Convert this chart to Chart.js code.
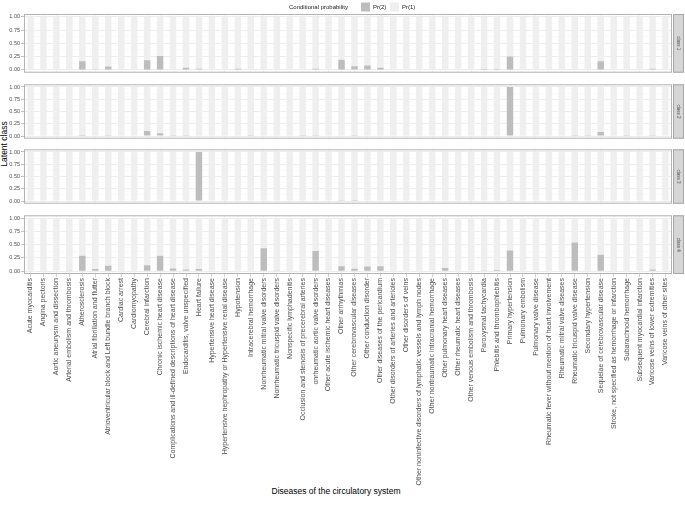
<!DOCTYPE html>
<html>
<head>
<meta charset="utf-8">
<script src="https://cdn.jsdelivr.net/npm/chart.js@4.4.0/dist/chart.umd.min.js"></script>
<style>
  body { margin: 0; background: #fff; width: 685px; height: 511px; position: relative; overflow: hidden;
         font-family: "Liberation Sans", Arial, sans-serif; }
  canvas { position: absolute; left: 0; }
  #ytitle { position: absolute; left: -36.5px; top: 139px; width: 80px; text-align: center;
            font-size: 8.5px; color: #000; transform: rotate(-90deg); }
  #xtitle { position: absolute; left: 0; top: 486px; width: 672px; text-align: center;
            font-size: 8.5px; color: #000; }
</style>
</head>
<body>
<div id="ytitle">Latent class</div>
<div id="xtitle">Diseases of the circulatory system</div>
<canvas id="class1" width="685" height="77" style="top:0px"></canvas>
<canvas id="class2" width="685" height="63" style="top:80px"></canvas>
<canvas id="class3" width="685" height="63" style="top:145px"></canvas>
<canvas id="class4" width="685" height="300" style="top:211px"></canvas>
<script>
// Data
const categories = [
  'Acute myocarditis', 'Angina pectoris', 'Aortic aneurysm and dissection', 'Arterial embolism and thrombosis',
  'Atherosclerosis', 'Atrial fibrillation and flutter', 'Atrioventricular block and Left bundle branch block',
  'Cardiac arrest', 'Cardiomyopathy', 'Cerebral infarction', 'Chronic ischemic heart disease',
  'Complications and ill-defined descriptions of heart disease', 'Endocarditis, valve unspecified',
  'Heart failure', 'Hypertensive heart disease', 'Hypertensive nephropathy or Hypertensive renal disease',
  'Hypotension', 'Intracerebral hemorrhage', 'Nonrheumatic mitral valve disorders',
  'Nonrheumatic tricuspid valve disorders', 'Nonspecific lymphadenitis',
  'Occlusion and stenosis of precerebral arteries', 'onrheumatic aortic valve disorders',
  'Other acute ischemic heart diseases', 'Other arrhythmias', 'Other cerebrovascular diseases',
  'Other conduction disorder', 'Other diseases of the pericardium', 'Other disorders of arteries and arterioles',
  'Other disorders of veins', 'Other noninfective disorders of lymphatic vessels and lymph nodes',
  'Other nontraumatic intracranial hemorrhage', 'Other pulmonary heart diseases',
  'Other rheumatic heart diseases', 'Other venous embolism and thrombosis', 'Paroxysmal tachycardia',
  'Phlebitis and thrombophlebitis', 'Primary hypertension', 'Pulmonary embolism', 'Pulmonary valve disease',
  'Rheumatic fever without mention of heart involvement', 'Rheumatic mitral valve diseases',
  'Rheumatic tricuspid valve disease', 'Secondary hypertension', 'Sequelae of cerebrovascular disease',
  'Stroke, not specified as hemorrhage or infarction', 'Subarachnoid hemorrhage',
  'Subsequent myocardial infarction', 'Varicose veins of lower extremities', 'Varicose veins of other sites'
];

const classNames = ['class 1', 'class 2', 'class 3', 'class 4'];

const class1Pr2 = [0, 0, 0, 0, 0.16, 0.01, 0.06, 0.005, 0, 0.18,
                   0.26, 0.005, 0.04, 0.02, 0, 0, 0.02, 0, 0, 0,
                   0, 0.005, 0.02, 0.005, 0.19, 0.065, 0.08, 0.04, 0, 0,
                   0, 0, 0, 0, 0.005, 0.015, 0.015, 0.25, 0, 0,
                   0, 0, 0.005, 0, 0.16, 0, 0, 0, 0.02, 0];
const class1Pr1 = [1, 1, 1, 1, 0.84, 0.99, 0.94, 0.995, 1, 0.82,
                   0.74, 0.995, 0.96, 0.98, 1, 1, 0.98, 1, 1, 1,
                   1, 0.995, 0.98, 0.995, 0.81, 0.935, 0.92, 0.96, 1, 1,
                   1, 1, 1, 1, 0.995, 0.985, 0.985, 0.75, 1, 1,
                   1, 1, 0.995, 1, 0.84, 1, 1, 1, 0.98, 1];

const class2Pr2 = [0, 0, 0, 0, 0.02, 0, 0.005, 0, 0, 0.10,
                   0.055, 0.003, 0.005, 0, 0, 0, 0, 0.005, 0, 0,
                   0, 0.003, 0.003, 0, 0, 0.005, 0, 0, 0, 0,
                   0, 0, 0, 0, 0, 0, 0, 1, 0, 0,
                   0, 0, 0.003, 0.003, 0.08, 0, 0.003, 0, 0.003, 0];
const class2Pr1 = [1, 1, 1, 1, 0.98, 1, 0.995, 1, 1, 0.90,
                   0.945, 0.997, 0.995, 1, 1, 1, 1, 0.995, 1, 1,
                   1, 0.997, 0.997, 1, 1, 0.995, 1, 1, 1, 1,
                   1, 1, 1, 1, 1, 1, 1, 0, 1, 1,
                   1, 1, 0.997, 0.997, 0.92, 1, 0.997, 1, 0.997, 1];

const class3Pr2 = [0, 0, 0, 0, 0, 0, 0, 0, 0, 0,
                   0, 0, 0, 1, 0, 0, 0, 0, 0, 0,
                   0, 0, 0, 0, 0.003, 0.02, 0, 0, 0, 0,
                   0, 0, 0, 0, 0, 0, 0, 0.015, 0, 0,
                   0, 0, 0, 0, 0, 0, 0, 0, 0, 0];
const class3Pr1 = [1, 1, 1, 1, 1, 1, 1, 1, 1, 1,
                   1, 1, 1, 0, 1, 1, 1, 1, 1, 1,
                   1, 1, 1, 1, 0.997, 0.98, 1, 1, 1, 1,
                   1, 1, 1, 1, 1, 1, 1, 0.985, 1, 1,
                   1, 1, 1, 1, 1, 1, 1, 1, 1, 1];

const class4Pr2 = [0, 0, 0, 0.01, 0.29, 0.04, 0.10, 0, 0, 0.11,
                   0.29, 0.05, 0.03, 0.04, 0.005, 0.005, 0, 0, 0.43, 0.01,
                   0, 0, 0.38, 0, 0.09, 0.045, 0.085, 0.09, 0, 0,
                   0, 0, 0.06, 0, 0, 0.01, 0.02, 0.39, 0, 0,
                   0, 0, 0.54, 0, 0.31, 0, 0, 0, 0.03, 0];
const class4Pr1 = [1, 1, 1, 0.99, 0.71, 0.96, 0.90, 1, 1, 0.89,
                   0.71, 0.95, 0.97, 0.96, 0.995, 0.995, 1, 1, 0.57, 0.99,
                   1, 1, 0.62, 1, 0.91, 0.955, 0.915, 0.91, 1, 1,
                   1, 1, 0.94, 1, 1, 0.99, 0.98, 0.61, 1, 1,
                   1, 1, 0.46, 1, 0.69, 1, 1, 1, 0.97, 1];

const yTickValues = [0, 0.125, 0.25, 0.375, 0.5, 0.625, 0.75, 0.875, 1];
const yTickLabels = ['0.00', '', '0.25', '', '0.50', '', '0.75', '', '1.00'];

const FONT = '"Liberation Sans", Arial, sans-serif';
const PR2_COLOR = '#bdbdbd';
const PR1_COLOR = '#efefef';

// Panel border + facet strip on the right
const facetPlugin = {
  id: 'facet',
  afterDatasetsDraw(chart, args, opts) {
    const { ctx, chartArea: a } = chart;
    ctx.save();
    ctx.strokeStyle = '#b3b3b3';
    ctx.lineWidth = 1;
    ctx.strokeRect(a.left + 0.5, a.top + 0.5, a.right - a.left - 1, a.bottom - a.top - 1);
    // strip
    ctx.fillStyle = '#d6d6d6';
    ctx.fillRect(a.right + 1, a.top, 11, a.bottom - a.top);
    ctx.strokeStyle = '#a6a6a6';
    ctx.strokeRect(a.right + 1.5, a.top + 0.5, 10, a.bottom - a.top - 1);
    ctx.translate(a.right + 6.5, (a.top + a.bottom) / 2);
    ctx.rotate(Math.PI / 2);
    ctx.fillStyle = '#4d4d4d';
    ctx.font = '4.5px ' + FONT;
    ctx.textAlign = 'center';
    ctx.textBaseline = 'middle';
    ctx.fillText(opts.text, 0, 0);
    ctx.restore();
  }
};

// ggplot-style legend drawn above the first panel
const legendPlugin = {
  id: 'ggLegend',
  afterDraw(chart, args, opts) {
    if (!opts.show) return;
    const ctx = chart.ctx;
    ctx.save();
    ctx.font = '6px ' + FONT;
    ctx.textBaseline = 'middle';
    ctx.fillStyle = '#1a1a1a';
    ctx.fillText('Conditional probability', 289, 7);
    ctx.fillStyle = PR2_COLOR;
    ctx.fillRect(361, 2.5, 9, 9);
    ctx.fillStyle = '#1a1a1a';
    ctx.fillText('Pr(2)', 373, 7);
    ctx.fillStyle = PR1_COLOR;
    ctx.fillRect(390, 2.5, 9, 9);
    ctx.fillStyle = '#1a1a1a';
    ctx.fillText('Pr(1)', 402, 7);
    ctx.restore();
  }
};

function createPanel(canvasId, stripText, pr2, pr1, opts) {
  const el = document.getElementById(canvasId);
  if (!el) {
    console.error(`Canvas element with id '${canvasId}' not found`);
    return null;
  }
  const bottom = !!opts.bottom;

  return new Chart(el.getContext('2d'), {
    type: 'bar',
    data: {
      labels: categories,
      datasets: [
        { label: 'Pr(2)', data: pr2, backgroundColor: PR2_COLOR, borderWidth: 0 },
        { label: 'Pr(1)', data: pr1, backgroundColor: PR1_COLOR, borderWidth: 0 }
      ]
    },
    options: {
      responsive: false,
      animation: false,
      events: [],
      barPercentage: 0.5,
      categoryPercentage: 1,
      layout: {
        padding: { top: opts.padTop || 0, right: 13, bottom: 0, left: 0 }
      },
      plugins: {
        legend: { display: false },
        tooltip: { enabled: false },
        facet: { text: stripText },
        ggLegend: { show: !!opts.legend }
      },
      scales: {
        x: {
          type: 'category',
          stacked: true,
          offset: true,
          grid: {
            offset: false,
            color: '#ebebeb',
            lineWidth: 0.6,
            drawTicks: bottom,
            tickColor: '#b3b3b3',
            tickLength: 3
          },
          border: { display: false },
          ticks: {
            display: bottom,
            autoSkip: false,
            minRotation: 90,
            maxRotation: 90,
            padding: 1,
            color: '#4d4d4d',
            font: { size: 7, family: FONT }
          },
          afterFit: function(scale) {
            scale.height = bottom ? 237 : 0;
          }
        },
        y: {
          stacked: true,
          min: -0.055,
          max: 1.055,
          afterBuildTicks: function(scale) {
            scale.ticks = yTickValues.map(v => ({ value: v }));
          },
          afterFit: function(scale) {
            scale.width = 24;
          },
          grid: {
            color: ctx => (ctx.index % 2 === 1 ? '#f5f5f5' : '#e8e8e8'),
            lineWidth: ctx => (ctx.index % 2 === 1 ? 0.5 : 0.8),
            tickColor: ctx => (ctx.index % 2 === 1 ? 'rgba(0,0,0,0)' : '#b3b3b3'),
            tickLength: 3
          },
          border: { display: false },
          ticks: {
            autoSkip: false,
            padding: 1,
            color: '#4d4d4d',
            font: { size: 5.5, family: FONT },
            callback: function(value, index) {
              return yTickLabels[index];
            }
          }
        }
      }
    },
    plugins: [facetPlugin, legendPlugin]
  });
}

createPanel('class1', classNames[0], class1Pr2, class1Pr1, { padTop: 14, legend: true });
createPanel('class2', classNames[1], class2Pr2, class2Pr1, {});
createPanel('class3', classNames[2], class3Pr2, class3Pr1, {});
createPanel('class4', classNames[3], class4Pr2, class4Pr1, { bottom: true });
</script>
</body>
</html>
